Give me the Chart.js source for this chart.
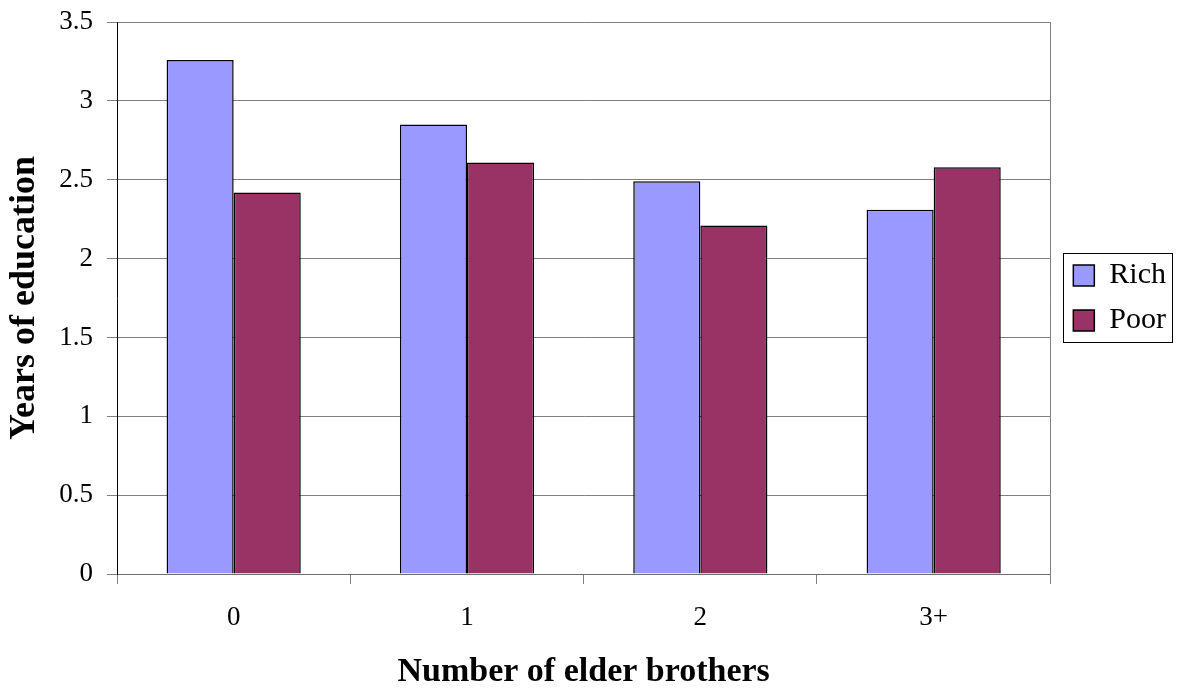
<!DOCTYPE html>
<html>
<head>
<meta charset="utf-8">
<script src="https://cdn.jsdelivr.net/npm/chart.js@4/dist/chart.umd.min.js"></script>
<style>
  html, body { margin: 0; padding: 0; background: #fff; }
  #wrap { width: 1177px; height: 689px; }
</style>
</head>
<body>
<div id="wrap"><canvas id="c" width="1177" height="689"></canvas></div>
<script>
const categories = ["0", "1", "2", "3+"];
const richValues = [3.26, 2.85, 2.49, 2.31];
const poorValues = [2.42, 2.61, 2.21, 2.58];
const seriesNames = ["Rich", "Poor"];
const yTitle = "Years of education";
const xTitle = "Number of elder brothers";

Chart.defaults.font.family = "'Liberation Serif', 'Times New Roman', serif";
Chart.defaults.color = "#000";

const legendBorder = {
  id: "legendBorder",
  afterDraw(chart) {
    const lg = chart.legend;
    if (!lg || !lg.legendHitBoxes || !lg.legendHitBoxes.length) return;
    const hb = lg.legendHitBoxes;
    const first = hb[0], last = hb[hb.length - 1];
    let right = 0;
    hb.forEach(h => { right = Math.max(right, h.left + h.width); });
    const ctx = chart.ctx;
    ctx.save();
    ctx.strokeStyle = "#000";
    ctx.lineWidth = 1;
    const l = Math.round(first.left - 10) + 0.5;
    const t = Math.round(first.top - 8) + 0.5;
    const r = Math.round(right + 6) + 0.5;
    const b = Math.round(last.top + last.height + 6) + 0.5;
    ctx.strokeRect(l, t, r - l, b - t);
    ctx.restore();
  }
};

new Chart(document.getElementById("c"), {
  type: "bar",
  data: {
    labels: categories,
    datasets: [
      { label: seriesNames[0], data: richValues, backgroundColor: "#9999FF", borderColor: "#000", borderWidth: 1.5 },
      { label: seriesNames[1], data: poorValues, backgroundColor: "#993366", borderColor: "#000", borderWidth: 1.5 }
    ]
  },
  options: {
    responsive: false,
    animation: false,
    devicePixelRatio: 1,
    categoryPercentage: 0.575,
    barPercentage: 1.0,
    layout: { padding: { top: 0, left: 0, right: 1, bottom: 0 } },
    plugins: {
      tooltip: { enabled: false },
      legend: {
        position: "right",
        fullSize: false,
        labels: {
          boxWidth: 21,
          boxHeight: 21,
          padding: 15,
          color: "#000",
          font: { size: 30 }
        }
      }
    },
    scales: {
      x: {
        grid: { display: true, drawOnChartArea: false, offset: true, tickLength: 10, color: "#808080" },
        border: { display: true, color: "#707070", width: 1 },
        ticks: { padding: 18, font: { size: 27 }, color: "#000" },
        title: { display: true, text: xTitle, font: { size: 34, weight: "bold", lineHeight: 1 }, padding: { top: 21, bottom: 0 }, color: "#000" },
        afterFit(s) { s.height = 115; }
      },
      y: {
        min: 0,
        max: 3.5,
        ticks: { stepSize: 0.5, padding: 14, font: { size: 27, lineHeight: 0.6 }, color: "#000",
                 callback: (v) => String(Number(v)) },
        grid: { color: "#808080", tickLength: 10 },
        border: { display: true, color: "#000", width: 1 },
        title: { display: true, text: yTitle, font: { size: 36, weight: "bold", lineHeight: 1 }, padding: { top: 7, bottom: 0 }, color: "#000" },
        afterFit(s) { s.width = 117; }
      },
      y2: {
        position: "right",
        display: true,
        grid: { display: false },
        ticks: { display: false },
        border: { display: true, color: "#808080", width: 1 },
        afterFit(s) { s.width = 8; }
      }
    }
  },
  plugins: [legendBorder]
});
</script>
</body>
</html>
